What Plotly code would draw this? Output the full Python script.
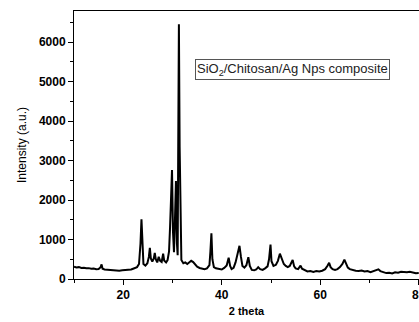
import plotly.graph_objects as go

two_theta = [10.0, 10.5, 11.0, 11.5, 12.0, 12.5, 13.0, 13.5, 14.0, 14.5, 15.0, 15.4, 15.6, 15.8,
             16.2, 16.8, 17.4, 18.0, 18.6, 19.2, 19.8, 20.4, 21.0, 21.6, 22.0, 22.4, 22.8, 23.2,
             23.5, 23.7, 23.9, 24.1, 24.5, 24.9, 25.2, 25.4, 25.6, 25.9, 26.2, 26.4, 26.6, 26.9,
             27.2, 27.5, 27.8, 28.1, 28.3, 28.7, 29.0, 29.3, 29.5, 29.7, 29.9, 30.1, 30.3, 30.5,
             30.7, 30.9, 31.05, 31.15, 31.3, 31.45, 31.6, 31.8, 32.2, 32.6, 33.0, 33.4, 33.8, 34.2,
             34.6, 35.0, 35.5, 36.0, 36.5, 37.0, 37.5, 37.7, 37.9, 38.1, 38.4, 38.8, 39.2, 39.6,
             40.0, 40.5, 41.0, 41.4, 41.7, 42.0, 42.4, 42.8, 43.2, 43.6, 43.9, 44.2, 44.6, 45.0,
             45.4, 45.7, 46.1, 46.6, 47.0, 47.4, 47.8, 48.3, 48.8, 49.3, 49.6, 49.9, 50.1, 50.5,
             51.0, 51.4, 51.8, 52.2, 52.6, 53.0, 53.4, 53.8, 54.4, 54.7, 55.0, 55.5, 56.0, 56.3,
             56.8, 57.4, 58.0, 58.6, 59.2, 59.8, 60.4, 61.0, 61.5, 61.8, 62.1, 62.5, 63.0, 63.5,
             64.0, 64.5, 64.9, 65.2, 65.6, 66.0, 66.6, 67.2, 67.8, 68.4, 69.0, 69.6, 70.2, 70.8,
             71.4, 71.8, 72.2, 72.8, 73.4, 74.0, 74.6, 75.2, 75.8, 76.4, 77.0, 77.6, 78.2, 78.8,
             79.4, 80.0]
intensity = [310, 290, 300, 280, 285, 270, 275, 260, 265, 250, 255, 300, 370, 260,
             240, 235, 230, 215, 225, 210, 220, 225, 230, 240, 260, 290, 300, 380,
             900, 1510, 700, 380, 340, 400, 560, 790, 520, 440, 520, 660, 500, 420,
             560, 460, 430, 640, 470, 420, 480, 700, 1300, 1900, 2760, 1200, 680, 1500,
             2480, 900, 600, 3000, 6450, 3350, 1200, 480, 400, 420, 380, 430, 460, 430,
             370, 310, 280, 260, 250, 270, 350, 700, 1160, 500, 300, 270, 260, 250,
             240, 280, 340, 540, 330, 250, 280, 420, 600, 840, 560, 330, 290, 350,
             550, 330, 230, 220, 240, 300, 250, 230, 270, 320, 500, 870, 450, 330,
             360, 460, 640, 480, 380, 330, 300, 330, 480, 320, 270, 250, 340, 260,
             220, 190, 200, 180, 200, 190, 210, 250, 340, 410, 300, 250, 230, 250,
             300, 380, 490, 380, 290, 250, 220, 210, 200, 215, 190, 200, 175, 195,
             220, 245, 200, 165, 150, 160, 140, 170, 160, 185, 180, 170, 185, 160,
             145, 150]

x_ticks = [20, 40, 60, 80]
y_ticks = [0, 1000, 2000, 3000, 4000, 5000, 6000]
legend_label = "SiO<sub>2</sub>/Chitosan/Ag Nps composite"

fig = go.Figure()
fig.add_trace(go.Scatter(x=two_theta, y=intensity, mode="lines",
                         line=dict(color="black", width=2), showlegend=False))

FONT = "Liberation Sans, Arial, sans-serif"
tick_font = dict(family=FONT, size=12, color="black", weight="bold")

fig.update_layout(
    width=419, height=322,
    margin=dict(l=74, r=0, t=11, b=43),
    paper_bgcolor="white", plot_bgcolor="white",
    xaxis=dict(range=[10, 80.05], tickvals=x_ticks, ticktext=[str(v) for v in x_ticks],
               automargin=False,
               showgrid=False, zeroline=False, showline=True, linecolor="black", linewidth=1,
               mirror=True, ticks="outside", ticklen=5, tickwidth=1, tickcolor="black",
               minor=dict(dtick=10, tick0=0, ticks="outside", ticklen=3, tickcolor="black"),
               tickfont=tick_font, ticklabeloverflow="allow",
               title=dict(text="2 theta", standoff=5,
                          font=dict(family=FONT, size=11, color="black", weight="bold"))),
    yaxis=dict(range=[0, 6785], tickvals=y_ticks, ticktext=[str(v) for v in y_ticks],
               automargin=False,
               showgrid=False, zeroline=False, showline=True, linecolor="black", linewidth=1,
               ticks="outside", ticklen=5, tickwidth=1, tickcolor="black",
               minor=dict(dtick=500, tick0=0, ticks="outside", ticklen=3, tickcolor="black"),
               tickfont=tick_font,
               title=dict(text="Intensity (a.u.)", standoff=9,
                          font=dict(family=FONT, size=12, color="black"))),
    annotations=[dict(text=legend_label, xref="paper", yref="paper", x=0.632, y=0.78,
                      xanchor="center", yanchor="middle", showarrow=False,
                      font=dict(family=FONT, size=13, color="#222"),
                      bordercolor="#555", borderwidth=1, borderpad=1, bgcolor="white")],
)

fig.write_html("out.html", config={"displayModeBar": False},
               post_script="document.body.style.margin='0';document.body.style.overflow='hidden';")
